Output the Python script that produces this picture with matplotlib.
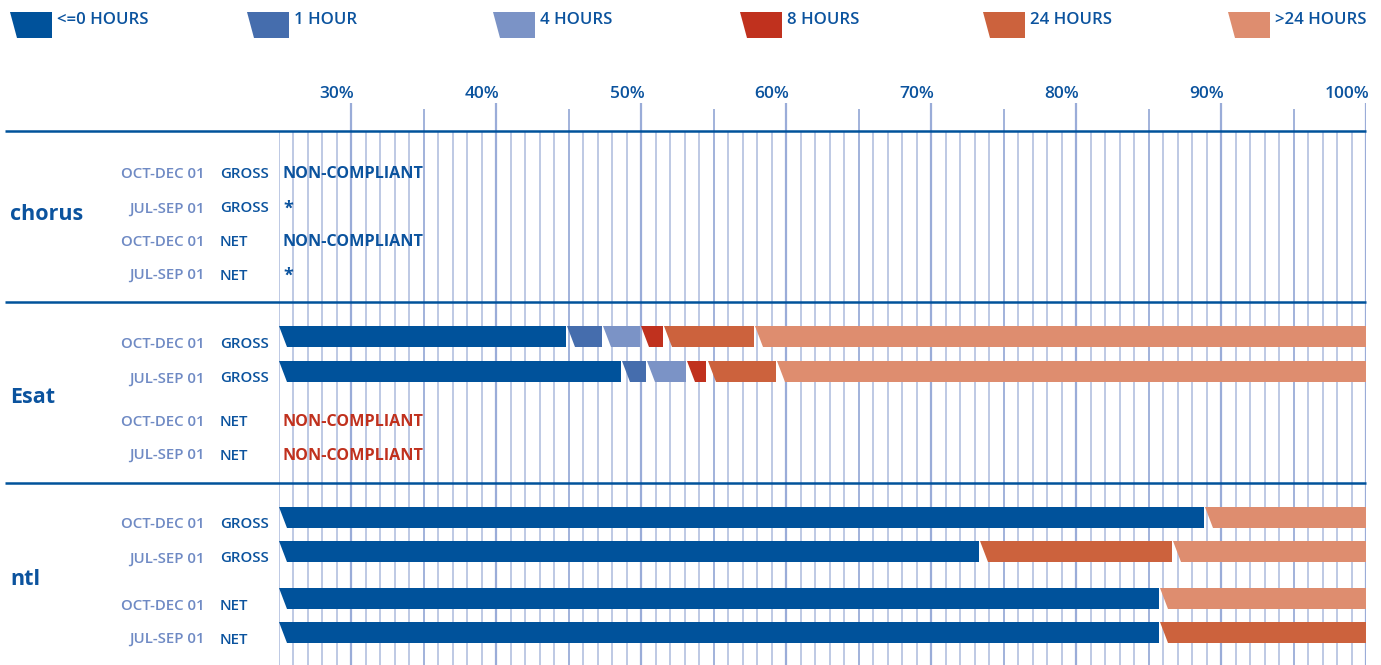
import matplotlib
matplotlib.use("Agg")
import matplotlib.pyplot as plt
from matplotlib.patches import Polygon

plt.rcParams['font.family'] = ['Open Sans', 'DejaVu Sans']

# ---------------- data ----------------
groups = ["chorus", "Esat", "ntl"]
periods = ["OCT-DEC 01", "JUL-SEP 01", "OCT-DEC 01", "JUL-SEP 01"]
measures = ["GROSS", "GROSS", "NET", "NET"]
legend_labels = ["<=0 HOURS", "1 HOUR", "4 HOURS", "8 HOURS", "24 HOURS", ">24 HOURS"]
tick_values = [30, 40, 50, 60, 70, 80, 90, 100]
tick_labels = ["30%", "40%", "50%", "60%", "70%", "80%", "90%", "100%"]

# segment shares (%) per row: <=0h, 1h, 4h, 8h, 24h, >24h ; None = text status
chorus_rows = [None, None, None, None]
chorus_status = ["NON-COMPLIANT", "*", "NON-COMPLIANT", "*"]
esat_rows = [[44.8, 2.5, 2.6, 1.6, 6.3, 42.2],
             [48.6, 1.7, 2.8, 1.4, 4.8, 40.7],
             None, None]
esat_status = [None, None, "NON-COMPLIANT", "NON-COMPLIANT"]
ntl_rows = [[88.8, 0, 0, 0, 0, 11.2],
            [73.3, 0, 0, 0, 13.3, 13.4],
            [85.7, 0, 0, 0, 0, 14.3],
            [85.7, 0, 0, 0, 14.3, 0]]
ntl_status = [None, None, None, None]

# ---------------- style ----------------
seg_colors = ["#00529B", "#456DAD", "#7B93C6", "#C0311E", "#CC623D", "#DE8D6F"]
dark = "#0B539E"
light = "#6F8AC4"
red = "#C0311E"
grid_c = "#B9C5E2"
grid_c5 = "#9AACD8"

W, H = 1381, 665
fig = plt.figure(figsize=(W / 100, H / 100), dpi=100)

x0_px, x1_px = 279, 1366
xmin, xmax = 25, 100
ax = fig.add_axes([x0_px / W, 0, (x1_px - x0_px) / W, 1])
ax.set_xlim(xmin, xmax)
ax.set_ylim(H, 0)
ax.axis("off")
px = (xmax - xmin) / (x1_px - x0_px)  # data units per pixel

lay = fig.add_axes([0, 0, 1, 1], zorder=5)
lay.set_xlim(0, W)
lay.set_ylim(H, 0)
lay.axis("off")
lay.patch.set_alpha(0)

# layout (pixel rows)
header_y = 131
sep_ys = [131, 302, 483]
label_ys = [[172, 207, 240, 274], [342, 377, 421, 454], [523, 557, 604, 638]]
bar_offset = -6
text_nudge = 1.5
group_ys = [213, 396, 578]
bar_h = 21
slant = 8 * px
gap = 1.2 * px

# vertical grid
for v in range(xmin + 1, xmax + 1):
    if v % 10 == 0:
        c, lw, top = grid_c5, 1.6, 103
    elif v % 5 == 0:
        c, lw, top = grid_c5, 1.3, 109
    else:
        c, lw, top = grid_c, 1.3, header_y
    ax.vlines(v, top, H, color=c, lw=lw, zorder=1)
ax.vlines(xmin, header_y, H, color=grid_c, lw=1.3, zorder=1)

for v, lab in zip(tick_values, tick_labels):
    ax.text(v + 3 * px, 98, lab, ha="right", va="baseline", fontsize=12.5,
            color=dark, fontweight="semibold", zorder=3)

# horizontal separators
for y in sep_ys:
    lay.plot([5, x1_px], [y, y], color="#00529B", lw=1.8, solid_capstyle="butt")


def seg_poly(a, b, yc, color, z=2):
    top, bot = yc - bar_h / 2, yc + bar_h / 2
    return Polygon([(a, top), (b, top), (b, bot), (a + slant, bot)],
                   closed=True, facecolor=color, edgecolor="none", zorder=z)


all_rows = [chorus_rows, esat_rows, ntl_rows]
all_status = [chorus_status, esat_status, ntl_status]
status_colors = [dark, red, dark]

for gi, g in enumerate(groups):
    lay.text(10, group_ys[gi] + text_nudge, g, ha="left", va="center", fontsize=15.5,
             fontweight="bold", color=dark)
    for ri in range(4):
        ly = label_ys[gi][ri]
        lay.text(205, ly + text_nudge, periods[ri], ha="right", va="center", fontsize=10.8,
                 fontweight="semibold", color=light)
        lay.text(220, ly + text_nudge, measures[ri], ha="left", va="center", fontsize=10.8,
                 fontweight="semibold", color=dark)
        vals = all_rows[gi][ri]
        if vals is not None:
            yc = ly + bar_offset
            cum = 0
            start = xmin
            for si, v in enumerate(vals):
                cum += v
                if v <= 0:
                    continue
                end = min(cum, xmax) - 0.15 * px
                a = max(start, xmin)
                ax.add_patch(seg_poly(a, end, yc, seg_colors[si]))
                start = end + gap
        st = all_status[gi][ri]
        if st is not None:
            ax.annotate(st, xy=(xmin, ly + text_nudge), xytext=(4, 0),
                        textcoords="offset pixels", ha="left", va="center",
                        fontsize=11.6 if st != "*" else 13,
                        fontweight="bold", color=status_colors[gi], zorder=4)

# legend
leg_x = [10, 247, 493, 740, 983, 1228]
for li, lab in enumerate(legend_labels):
    xl = leg_x[li]
    lay.add_patch(Polygon([(xl, 12), (xl + 42, 12), (xl + 42, 38), (xl + 7, 38)],
                          closed=True, facecolor=seg_colors[li], edgecolor="none"))
    lay.text(xl + 47, 19.5, lab, ha="left", va="center", fontsize=12.1,
             fontweight="semibold", color=dark)

fig.savefig("out.png", dpi=100)
